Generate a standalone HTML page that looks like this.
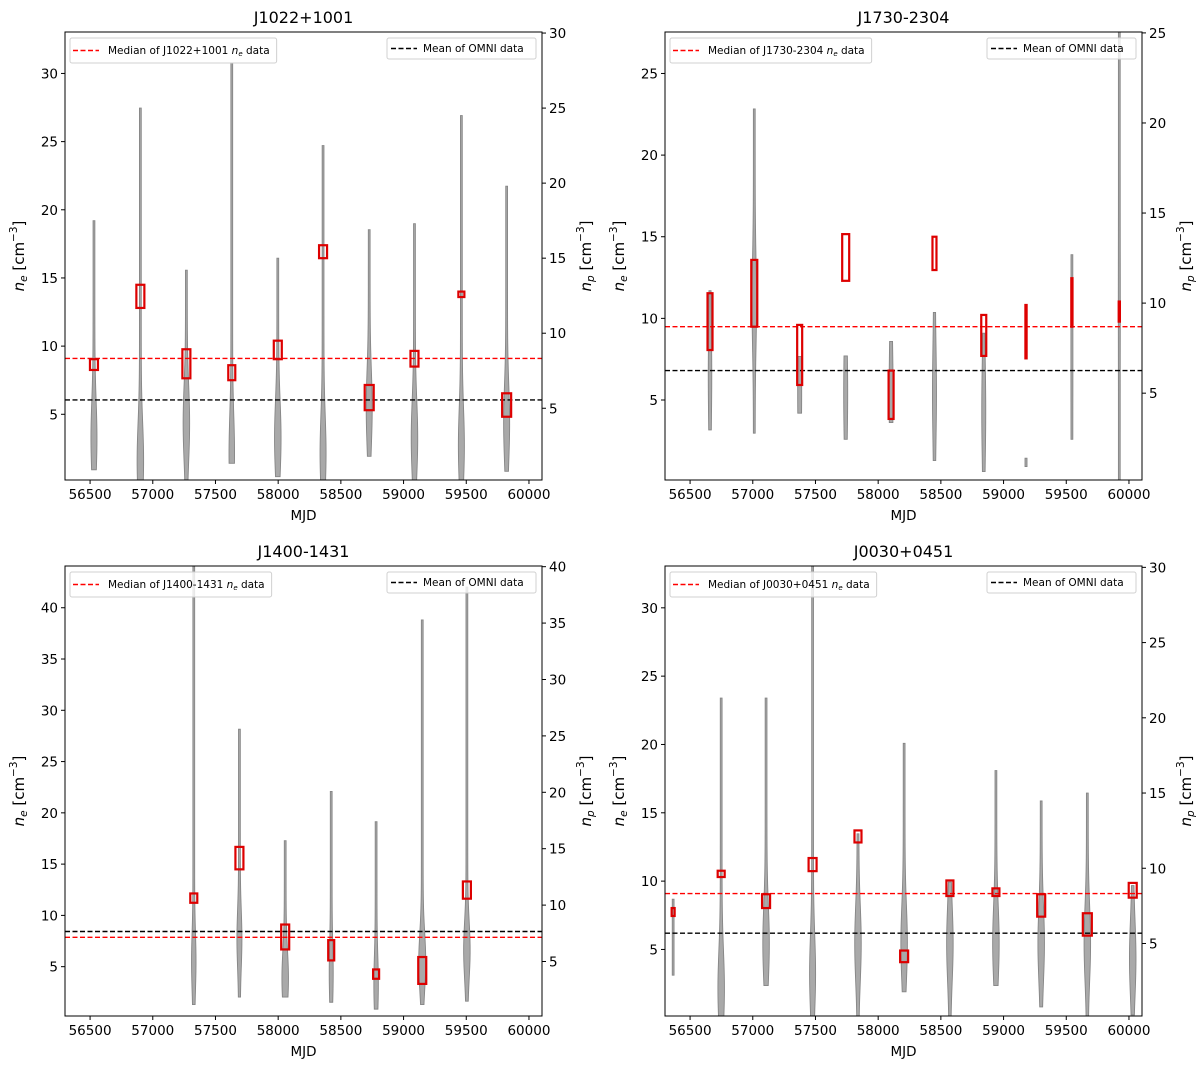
<!DOCTYPE html>
<html><head><meta charset="utf-8"><style>
html,body{margin:0;padding:0;background:#fff;}
svg{display:block;font-family:"DejaVu Sans","Liberation Sans",sans-serif;}
</style></head><body>
<svg id="fig" width="1200" height="1069" viewBox="0 0 1200 1069" xmlns="http://www.w3.org/2000/svg"></svg>
<script>
// ---------- Data: J1022+1001 (top-left) ----------
const tlTitle = "J1022+1001";
const tlMjd = [56531,56901,57268,57630,57997,58358,58726,59087,59461,59822];
const tlVMin = [0.9,0,0,1.33,0.44,0,1.8,0,0,0.8];
const tlVMax = [17.5,25.0,14.2,28.0,15.0,22.5,16.9,17.3,24.5,19.8];
const tlVMode = [3,1.5,4,2,3,2,5,3,2.5,4];
const tlVPeak = [24,26,26,22,26,24,24,26,24,24];
const tlBoxLo = [8.25,12.8,7.64,7.5,9.04,16.45,5.3,8.5,13.6,4.82];
const tlBoxHi = [9.04,14.5,9.77,8.6,10.4,17.4,7.15,9.65,14.0,6.54];
const tlMedian = 9.1, tlMean = 6.05;
const tlLeftTicks = [5,10,15,20,25,30];
const tlRightTicks = [5,10,15,20,25,30];

// ---------- Data: J1730-2304 (top-right) ----------
const trTitle = "J1730-2304";
const trMjd = [56659,57012,57374,57741,58103,58449,58842,59179,59545,59923];
const trVMin = [2.96,2.78,3.89,2.44,3.37,1.26,0.65,0.93,2.44,0];
const trVMax = [10.69,20.78,7.04,7.07,7.87,9.48,8.33,1.39,12.69,30];
const trVMode = [6,10,5,5,5,5,4,1.1,7,10];
const trVPeak = [14,18,16,16,16,16,16,8,8,8];
const trBoxLo = [8.06,9.49,5.92,12.30,3.84,12.96,7.70,7.55,9.49,9.80];
const trBoxHi = [11.54,13.58,9.60,15.16,6.80,15.0,10.21,10.82,12.46,11.03];
const trMedian = 9.49, trMean = 6.80;
const trLeftTicks = [5,10,15,20,25];
const trRightTicks = [5,10,15,20,25];

// ---------- Data: J1400-1431 (bottom-left) ----------
const blTitle = "J1400-1431";
const blMjd = [57327,57691,58056,58423,58781,59149,59505];
const blVMin = [1.18,1.85,1.85,1.39,0.78,1.18,1.48];
const blVMax = [45,25.59,15.71,20.08,17.39,35.28,38.19];
const blVMode = [5,7,3.5,4,3,5,6];
const blVPeak = [18,20,26,16,18,28,26];
const blBoxLo = [11.23,14.49,6.68,5.61,3.82,3.32,11.63];
const blBoxHi = [12.14,16.68,9.11,7.59,4.73,5.94,13.31];
const blMedian = 7.86, blMean = 8.43;
const blLeftTicks = [5,10,15,20,25,30,35,40];
const blRightTicks = [5,10,15,20,25,30,35,40];

// ---------- Data: J0030+0451 (bottom-right) ----------
const brTitle = "J0030+0451";
const brMjd = [56365,56748,57106,57477,57839,58207,58572,58939,59300,59668,60030];
const brVMin = [2.89,0,2.2,0,0,1.79,0,2.2,0.78,0,0.25];
const brVMax = [7.94,21.31,21.31,35,12.29,18.3,9.08,16.49,14.47,15.0,8.85];
const brVMode = [5,2,5,3,5,5,5,5,5,5,4];
const brVPeak = [6,26,26,24,26,26,26,26,26,26,26];
const brBoxLo = [7.45,10.30,8.03,10.73,12.83,4.07,8.91,8.91,7.40,6.01,8.79];
const brBoxHi = [8.03,10.76,9.04,11.69,13.71,4.92,10.05,9.47,9.04,7.65,9.87];
const brMedian = 9.09, brMean = 6.19;
const brLeftTicks = [5,10,15,20,25,30];
const brRightTicks = [5,10,15,20,25,30];

const xTicks = [56500,57000,57500,58000,58500,59000,59500,60000];

const NS = "http://www.w3.org/2000/svg";
const fig = document.getElementById('fig');
function mk(tag, attrs, parent){
  const e = document.createElementNS(NS, tag);
  for (const k in attrs) e.setAttribute(k, attrs[k]);
  (parent||fig).appendChild(e);
  return e;
}

const panels = [
  {key:'tl', title:tlTitle, L:65, R:542, T:32, B:480, yl:[0.18,33.04], yr:[0.22,30.07],
   mjd:tlMjd, vmin:tlVMin, vmax:tlVMax, vmode:tlVMode, vpeak:tlVPeak, blo:tlBoxLo, bhi:tlBoxHi,
   med:tlMedian, mean:tlMean, lt:tlLeftTicks, rt:tlRightTicks, bw:[4,4,4,3.5,4,4,4.5,4,3,4.5]},
  {key:'tr', title:trTitle, L:665, R:1142, T:32, B:480, yl:[0.10,27.54], yr:[0.18,25.05],
   mjd:trMjd, vmin:trVMin, vmax:trVMax, vmode:trVMode, vpeak:trVPeak, blo:trBoxLo, bhi:trBoxHi,
   med:trMedian, mean:trMean, lt:trLeftTicks, rt:trRightTicks, bw:[2.5,3,2.5,3.5,2.5,2,2.5,0.6,0.6,0.6]},
  {key:'bl', title:blTitle, L:65, R:542, T:566, B:1016, yl:[0.19,44.07], yr:[0.17,40.06],
   mjd:blMjd, vmin:blVMin, vmax:blVMax, vmode:blVMode, vpeak:blVPeak, blo:blBoxLo, bhi:blBoxHi,
   med:blMedian, mean:blMean, lt:blLeftTicks, rt:blRightTicks, bw:[3.5,4,4,3,3,4,4]},
  {key:'br', title:brTitle, L:665, R:1142, T:566, B:1016, yl:[0.13,33.06], yr:[0.18,30.09],
   mjd:brMjd, vmin:brVMin, vmax:brVMax, vmode:brVMode, vpeak:brVPeak, blo:brBoxLo, bhi:brBoxHi,
   med:brMedian, mean:brMean, lt:brLeftTicks, rt:brRightTicks, bw:[1.5,3.5,4,4,3.5,4,3.5,3.5,4,4.5,4]}
];
const XMIN = 56300, XMAX = 60104;

panels.forEach(p => {
  const g = mk('g', {});
  
  
  const xs = v => p.L + (v - XMIN) / (XMAX - XMIN) * (p.R - p.L);
  const yL = v => p.B - (v - p.yl[0]) / (p.yl[1] - p.yl[0]) * (p.B - p.T);
  const yR = v => p.B - (v - p.yr[0]) / (p.yr[1] - p.yr[0]) * (p.B - p.T);
  const pxPerDay = (p.R - p.L) / (XMAX - XMIN);

  const defs = mk('defs', {}, g);
  const cp = mk('clipPath', {id:'clip-' + p.key}, defs);
  mk('rect', {x:p.L, y:p.T, width:p.R-p.L, height:p.B-p.T}, cp);

  const plot = mk('g', {'clip-path':'url(#clip-' + p.key + ')'}, g);
  
  

  p.mjd.forEach((m, i) => {
    const lo = p.vmin[i], hi = p.vmax[i], mode = p.vmode[i], peak = p.vpeak[i] * pxPerDay;
    const base = 0.9, s = 2.5, N = 60;
    const left = [], right = [];
    const cx = xs(m);
    for (let k = 0; k <= N; k++) {
      const v = lo + (hi - lo) * k / N;
      const hw = base + Math.max(0, peak - base) * Math.exp(-0.5 * Math.pow((v - mode) / s, 2));
      right.push([cx + hw, yR(v)]);
      left.push([cx - hw, yR(v)]);
    }
    const pts = right.concat(left.reverse());
    const d = 'M' + pts.map(q => q[0].toFixed(2) + ',' + q[1].toFixed(2)).join('L') + 'Z';
    const path = mk('path', {d:d, fill:'#a0a0a0', 'fill-opacity':'0.9', stroke:'#858585', 'stroke-width':'0.9'}, plot);
    
    
  });

  const med = mk('line', {x1:p.L, x2:p.R, y1:yL(p.med), y2:yL(p.med), stroke:'#ff0000', 'stroke-width':'1.4', 'stroke-dasharray':'5,2.5'}, plot);
  
  
  const mean = mk('line', {x1:p.L, x2:p.R, y1:yL(p.mean), y2:yL(p.mean), stroke:'#000000', 'stroke-width':'1.4', 'stroke-dasharray':'5,2.5'}, plot);
  
  

  p.mjd.forEach((m, i) => {
    const y1 = yL(p.bhi[i]), y2 = yL(p.blo[i]);
    const w = p.bw[i];
    const r = mk('rect', {x:xs(m) - w, y:y1, width:2 * w, height:Math.max(1, y2 - y1), fill:'none', stroke:'#dd0000', 'stroke-width':'2.2'}, plot);
    
    
  });

  const fr = mk('rect', {x:p.L, y:p.T, width:p.R-p.L, height:p.B-p.T, fill:'none', stroke:'#000', 'stroke-width':'1'}, g);
  
  

  xTicks.forEach(t => {
    const x = xs(t);
    mk('line', {x1:x, x2:x, y1:p.B, y2:p.B + 4, stroke:'#000'}, g);
    const tx = mk('text', {x:x, y:p.B + 19, 'text-anchor':'middle', 'font-size':'13.5'}, g);
    tx.textContent = t;
    
    
  });
  const xl = mk('text', {x:(p.L + p.R) / 2, y:p.B + 40, 'text-anchor':'middle', 'font-size':'13.5'}, g);
  xl.textContent = 'MJD';
  
  

  p.lt.forEach(t => {
    const y = yL(t);
    mk('line', {x1:p.L - 4, x2:p.L, y1:y, y2:y, stroke:'#000'}, g);
    const tx = mk('text', {x:p.L - 7, y:y + 5, 'text-anchor':'end', 'font-size':'13.5'}, g);
    tx.textContent = t;
    
    
  });
  p.rt.forEach(t => {
    const y = yR(t);
    mk('line', {x1:p.R, x2:p.R + 4, y1:y, y2:y, stroke:'#000'}, g);
    const tx = mk('text', {x:p.R + 7, y:y + 5, 'text-anchor':'start', 'font-size':'13.5'}, g);
    tx.textContent = t;
    
    
  });

  const cy = (p.T + p.B) / 2;
  const ylab = mk('text', {x:0, y:0, 'text-anchor':'middle', 'font-size':'15', transform:'translate(' + (p.L - 41) + ',' + cy + ') rotate(-90)'}, g);
  ylab.innerHTML = '<tspan font-style="italic">n</tspan><tspan font-size="10.5" font-style="italic" dy="3">e</tspan><tspan dy="-3"> [cm</tspan><tspan font-size="10.5" dy="-7">−3</tspan><tspan dy="7">]</tspan>';
  
  
  const yrl = mk('text', {x:0, y:0, 'text-anchor':'middle', 'font-size':'15', transform:'translate(' + (p.R + 49) + ',' + cy + ') rotate(-90)'}, g);
  yrl.innerHTML = '<tspan font-style="italic">n</tspan><tspan font-size="10.5" font-style="italic" dy="3">p</tspan><tspan dy="-3"> [cm</tspan><tspan font-size="10.5" dy="-7">−3</tspan><tspan dy="7">]</tspan>';
  
  

  const tt = mk('text', {x:(p.L + p.R) / 2, y:p.T - 9, 'text-anchor':'middle', 'font-size':'16'}, g);
  tt.textContent = p.title;
  
  

  const lg = mk('g', {}, g);
  
  
  const lbox = mk('rect', {x:p.L + 5, y:p.T + 6, width:217, height:25, rx:2, fill:'#fff', 'fill-opacity':'0.8', stroke:'#d0d0d0'}, lg);
  mk('line', {x1:p.L + 8, x2:p.L + 34, y1:p.T + 18.5, y2:p.T + 18.5, stroke:'#ff0000', 'stroke-width':'1.4', 'stroke-dasharray':'5,2.5'}, lg);
  const ltx = mk('text', {x:p.L + 43, y:p.T + 22, 'font-size':'10.5'}, lg);
  ltx.innerHTML = 'Median of ' + p.title + ' <tspan font-style="italic">n</tspan><tspan font-size="7" font-style="italic" dy="2">e</tspan><tspan dy="-2"> data</tspan>';
  try { lbox.setAttribute('width', ltx.getComputedTextLength() + 45); } catch(e){}

  const bg = mk('g', {}, g);
  
  
  const bx = p.R - 155;
  mk('rect', {x:bx, y:p.T + 6, width:149, height:21, rx:2, fill:'#fff', 'fill-opacity':'0.8', stroke:'#d0d0d0'}, bg);
  mk('line', {x1:bx + 4, x2:bx + 30, y1:p.T + 16.5, y2:p.T + 16.5, stroke:'#000', 'stroke-width':'1.4', 'stroke-dasharray':'5,2.5'}, bg);
  const btx = mk('text', {x:bx + 36, y:p.T + 20, 'font-size':'10.5'}, bg);
  btx.textContent = 'Mean of OMNI data';
});
</script>
</body></html>
